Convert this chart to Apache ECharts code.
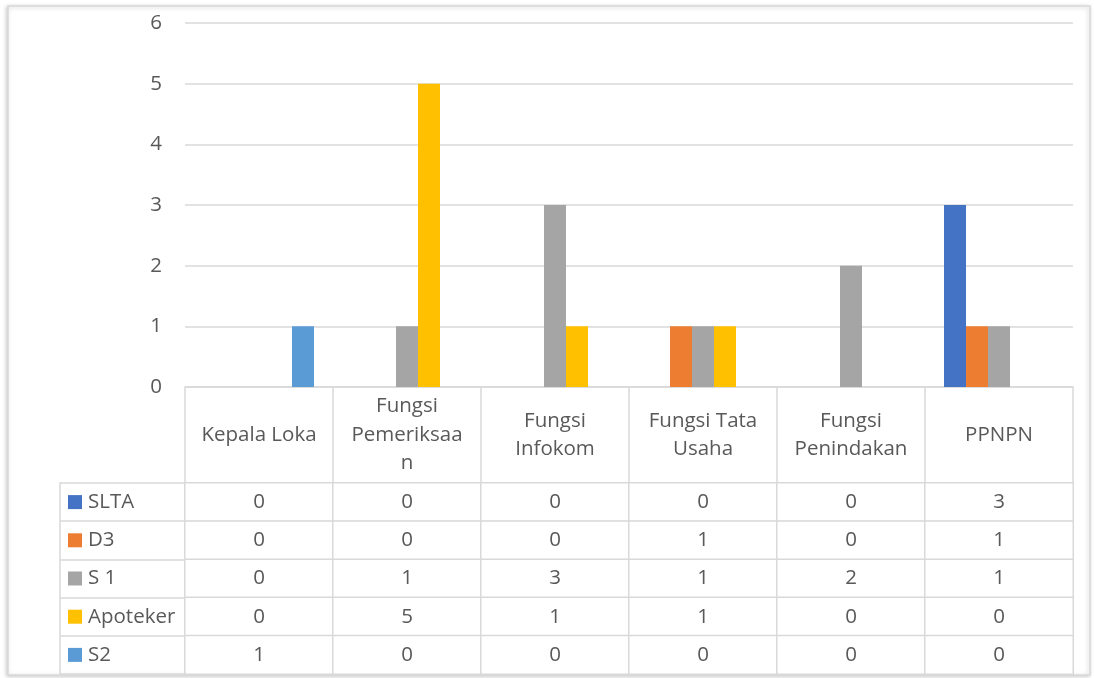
<!DOCTYPE html>
<html>
<head>
<meta charset="utf-8">
<script src="https://cdn.jsdelivr.net/npm/echarts@6/dist/echarts.min.js"></script>
<style>
  html, body { margin: 0; padding: 0; background: #fff; }
  #chart { width: 1094px; height: 678px; }
</style>
</head>
<body>
<div id="chart"></div>
<script>
// categories (header row of the data table)
var categories = ["Kepala Loka", "Fungsi\nPemeriksaa\nn", "Fungsi\nInfokom", "Fungsi Tata\nUsaha", "Fungsi\nPenindakan", "PPNPN"];
var seriesNames = ["SLTA", "D3", "S 1", "Apoteker", "S2"];
var colors = ["#4472C4", "#ED7D31", "#A5A5A5", "#FFC000", "#5B9BD5"];

// series values
var slta = [0, 0, 0, 0, 0, 3];
var d3 = [0, 0, 0, 1, 0, 1];
var s1 = [0, 1, 3, 1, 2, 1];
var apoteker = [0, 5, 1, 1, 0, 0];
var s2 = [1, 0, 0, 0, 0, 0];
var allValues = [slta, d3, s1, apoteker, s2];

var textColor = "#595959";
var lineColor = "#d9d9d9";
var font = "Open Sans";
var fs = 20.5;

var chart = echarts.init(document.getElementById("chart"));

// table cells: [column, row, value]
var cells = [];
allValues.forEach(function (vals, r) {
  vals.forEach(function (v, c) {
    cells.push([c, r, v]);
  });
});

var rich = {
  t: { fontSize: fs, fontFamily: font, color: textColor, padding: [0, 0, 0, 6] }
};
colors.forEach(function (c, i) {
  rich["s" + i] = { width: 14, height: 14, backgroundColor: c };
});

var barSeries = seriesNames.map(function (name, i) {
  return {
    name: name,
    type: "bar",
    xAxisIndex: 0,
    yAxisIndex: 0,
    data: allValues[i],
    barGap: "0%",
    barCategoryGap: "25.7%",
    itemStyle: { color: colors[i] },
    emphasis: { disabled: true }
  };
});

var option = {
  animation: false,
  textStyle: { fontFamily: font },
  graphic: [{
    type: "rect",
    z: -10,
    shape: { x: 8, y: 6, width: 1082, height: 669 },
    style: {
      fill: "#fff",
      stroke: lineColor,
      lineWidth: 1.5,
      shadowBlur: 4,
      shadowOffsetX: -1,
      shadowOffsetY: 1,
      shadowColor: "rgba(0,0,0,0.2)"
    },
    silent: true
  }],
  grid: [
    { left: 185, right: 21, top: 23, height: 364 },
    { left: 185, right: 21, top: 483, height: 191 }
  ],
  xAxis: [
    {
      gridIndex: 0,
      type: "category",
      data: categories,
      axisLine: { lineStyle: { color: lineColor, width: 1.5 } },
      axisTick: { show: true, interval: 0, length: 96, lineStyle: { color: lineColor, width: 1.5 } },
      axisLabel: {
        interval: 0,
        margin: 48,
        verticalAlign: "middle",
        lineHeight: 28.5,
        fontSize: fs,
        fontFamily: font,
        color: textColor
      }
    },
    {
      gridIndex: 1,
      type: "category",
      data: categories,
      show: false
    }
  ],
  yAxis: [
    {
      gridIndex: 0,
      type: "value",
      min: 0,
      max: 6,
      interval: 1,
      axisLine: { show: false },
      axisTick: { show: false },
      axisLabel: { margin: 23, fontSize: fs, fontFamily: font, color: textColor },
      splitLine: { lineStyle: { color: lineColor, width: 1.5 } }
    },
    {
      gridIndex: 1,
      type: "category",
      data: seriesNames,
      inverse: true,
      axisLine: { show: false },
      axisTick: { show: true, length: 125, lineStyle: { color: lineColor, width: 1.5 } },
      axisLabel: {
        align: "left",
        margin: 117,
        formatter: function (v, i) {
          return "{s" + i + "|}{t|" + v + "}";
        },
        rich: rich
      },
      splitLine: { show: false }
    },
    {
      gridIndex: 1,
      type: "category",
      data: seriesNames,
      inverse: true,
      position: "left",
      offset: 125,
      axisLine: { show: true, lineStyle: { color: lineColor, width: 1.5 } },
      axisTick: { show: false },
      axisLabel: { show: false }
    }
  ],
  series: barSeries.concat([{
    name: "table",
    type: "heatmap",
    xAxisIndex: 1,
    yAxisIndex: 1,
    data: cells,
    itemStyle: { color: "#fff", borderColor: lineColor, borderWidth: 1.5 },
    label: {
      show: true,
      fontSize: fs,
      fontFamily: font,
      color: textColor,
      formatter: function (p) { return p.value[2]; }
    },
    emphasis: { disabled: true }
  }])
};

chart.setOption(option);
window.addEventListener("resize", chart.resize);
</script>
</body>
</html>
